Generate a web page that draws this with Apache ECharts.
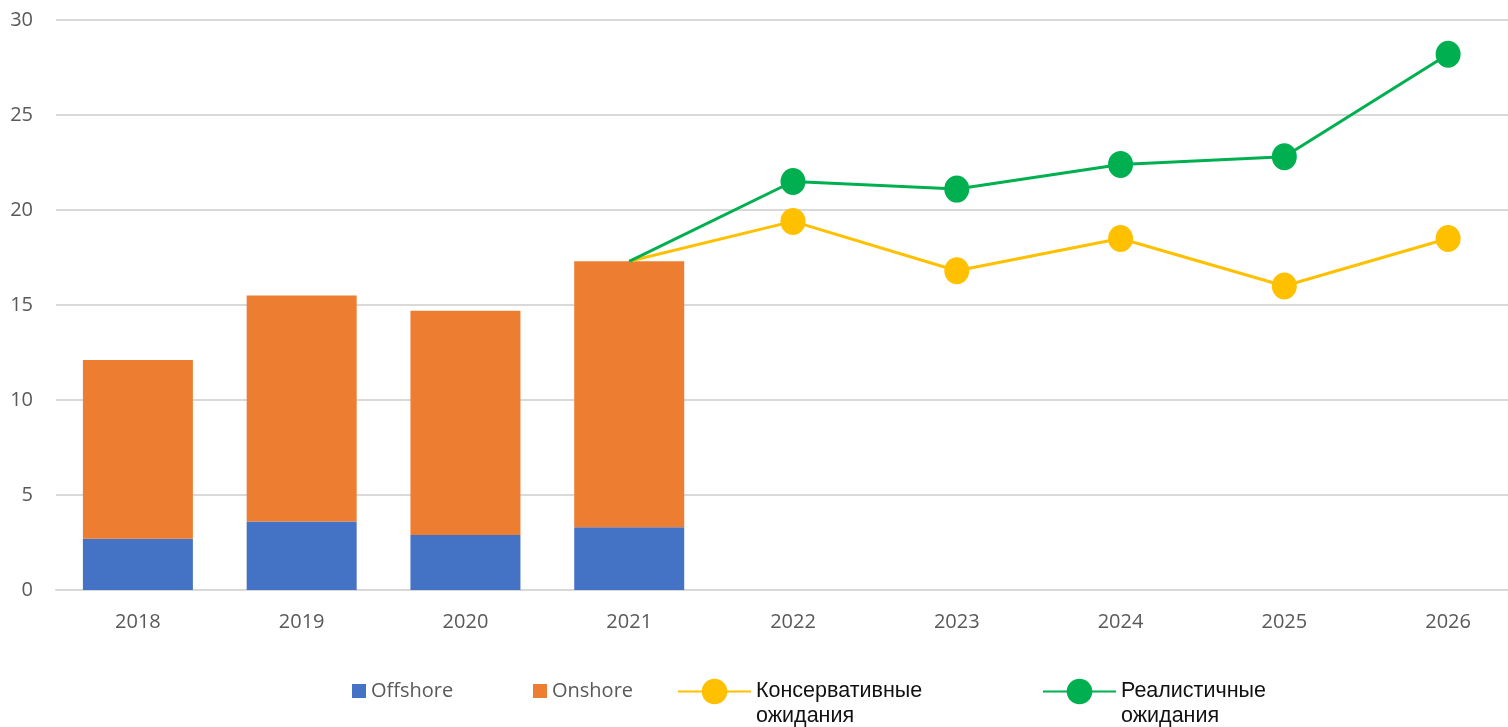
<!DOCTYPE html>
<html>
<head>
<meta charset="utf-8">
<script src="https://cdn.jsdelivr.net/npm/echarts@6/dist/echarts.min.js"></script>
<style>
  html, body { margin: 0; padding: 0; background: #fff; }
  #main { width: 1508px; height: 727px; }
</style>
</head>
<body>
<div id="main"></div>
<script>
// годы и значения (ГВт)
var years = ['2018', '2019', '2020', '2021', '2022', '2023', '2024', '2025', '2026'];
var yTicks = [0, 5, 10, 15, 20, 25, 30];
var offshore = [2.7, 3.6, 2.9, 3.3, null, null, null, null, null];
var onshore = [9.4, 11.9, 11.8, 14.0, null, null, null, null, null];
// прогнозы начинаются от итога 2021 года
var conservative = [null, null, null, 17.3, 19.4, 16.8, 18.5, 16.0, 18.5];
var realistic = [null, null, null, 17.3, 21.5, 21.1, 22.4, 22.8, 28.2];

var nameCons = 'Консервативные\nожидания';
var nameReal = 'Реалистичные\nожидания';

// первая точка прогноза — без маркера
function forecast(arr) {
    var first = -1;
    return arr.map(function (v, i) {
        if (v == null) return '-';
        if (first < 0) { first = i; return { value: v, symbol: 'none' }; }
        return v;
    });
}

// пустая строка сверху, чтобы первая строка подписи была на уровне значка
function twoLines(name) {
    return ' \n' + name;
}

var lineLegendText = {
    fontFamily: 'Liberation Sans', fontSize: 21.5, color: '#111', lineHeight: 25
};

var dom = document.getElementById('main');
var myChart = echarts.init(dom);
var option = {
    animation: false,
    grid: { left: 56, top: 20, width: 1474, bottom: 137, outerBoundsMode: 'none' },
    legend: [
        {
            data: ['Offshore'], left: 352, top: 681, padding: 0,
            icon: 'rect', itemWidth: 14, itemHeight: 14,
            textStyle: { fontFamily: 'Open Sans', fontSize: 20, color: '#595959' }
        },
        {
            data: ['Onshore'], left: 533, top: 681, padding: 0,
            icon: 'rect', itemWidth: 14, itemHeight: 14,
            textStyle: { fontFamily: 'Open Sans', fontSize: 20, color: '#595959' }
        },
        {
            data: [nameCons], left: 677, top: 654, padding: 0,
            itemWidth: 73, itemHeight: 32,
            formatter: twoLines,
            textStyle: lineLegendText
        },
        {
            data: [nameReal], left: 1042, top: 654, padding: 0,
            itemWidth: 73, itemHeight: 32,
            formatter: twoLines,
            textStyle: lineLegendText
        }
    ],
    xAxis: {
        type: 'category',
        data: years,
        axisTick: { show: false },
        axisLine: { lineStyle: { color: '#d9d9d9', width: 2 } },
        axisLabel: { margin: 22, fontFamily: 'Open Sans', fontSize: 20, color: '#595959' }
    },
    yAxis: {
        type: 'value',
        min: yTicks[0],
        max: yTicks[yTicks.length - 1],
        interval: 5,
        axisLine: { show: false },
        axisTick: { show: false },
        splitLine: { lineStyle: { color: '#d9d9d9', width: 2 } },
        axisLabel: { margin: 23, fontFamily: 'Open Sans', fontSize: 20, color: '#595959' }
    },
    series: [
        {
            name: 'Offshore', type: 'bar', stack: 'total', barWidth: 110,
            itemStyle: { color: '#4472C4' },
            data: offshore
        },
        {
            name: 'Onshore', type: 'bar', stack: 'total', barWidth: 110,
            itemStyle: { color: '#ED7D31' },
            data: onshore
        },
        {
            name: nameCons, type: 'line',
            symbol: 'circle', symbolSize: [25, 27],
            lineStyle: { color: '#FFC000', width: 3 },
            itemStyle: { color: '#FFC000' },
            data: forecast(conservative)
        },
        {
            name: nameReal, type: 'line',
            symbol: 'circle', symbolSize: [25, 27],
            lineStyle: { color: '#00B050', width: 3 },
            itemStyle: { color: '#00B050' },
            data: forecast(realistic)
        }
    ]
};
if (option && typeof option === "object") {
    myChart.setOption(option, true);
}
</script>
</body>
</html>
